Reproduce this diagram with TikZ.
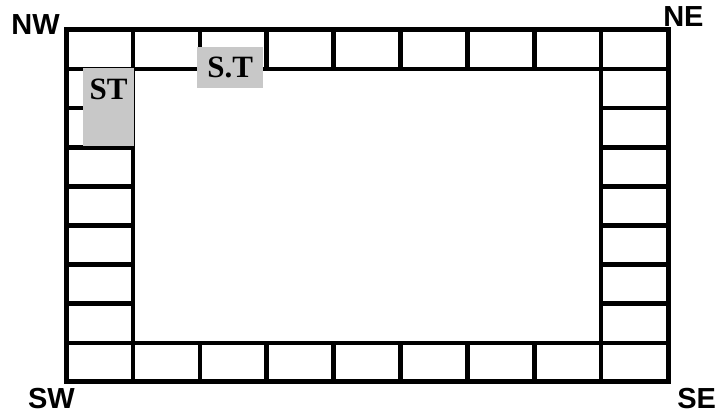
\documentclass[tikz,border=0pt]{standalone}
\usepackage{fontspec}
\setmainfont{Liberation Serif}
\setsansfont{Liberation Sans}
\usepackage{tikz}
\usetikzlibrary{positioning,calc}
\definecolor{shade}{HTML}{C8C8C8}

\begin{document}
\begin{tikzpicture}[x=1pt,y=-1pt,cell/.style={draw,line width=4.5pt,fill=white,minimum width=66.9pt,minimum height=39.1pt,inner sep=0pt,outer sep=0pt,anchor=north west},frame/.style={line width=5pt},patch/.style={fill=shade,inner sep=0pt,anchor=north west},tag/.style={font=\bfseries\fontsize{31}{31}\selectfont},corner/.style={font=\sffamily\bfseries\fontsize{29}{29}\selectfont,inner sep=0pt}]
\useasboundingbox (0,0) rectangle (723,417);
% ring of cells
\foreach \i in {0,...,8}{
  \node[cell] (top\i) at (66+\i*66.9,30) {};
  \node[cell] (bot\i) at (66+\i*66.9,342.8) {};
}
\foreach \j in {1,...,7}{
  \node[cell] (left\j) at (66,30+\j*39.1) {};
  \node[cell] (right\j) at (601.1,30+\j*39.1) {};
}
\draw[frame] (top0.north west) rectangle (bot8.south east);
% grey patches
\node[patch,minimum width=51pt,minimum height=78pt] (st) at (83,68) {};
\node[tag,anchor=base] (sttext) at ($(st.north)+(0,32)$) {ST};
\node[patch,tag,minimum width=66pt,minimum height=41pt] (s.t) at (197,47) {S.T};
% corner labels
\node[corner,anchor=base east] (nw) at ($(top0.north west)+(-6,5)$) {NW};
\node[corner,anchor=base west] (ne) at ($(top8.north east)+(-5,-3)$) {NE};
\node[corner,anchor=base east] (sw) at ($(bot0.south west)+(9,27)$) {SW};
\node[corner,anchor=base west] (se) at ($(bot8.south east)+(9,27)$) {SE};
\end{tikzpicture}
\end{document}
